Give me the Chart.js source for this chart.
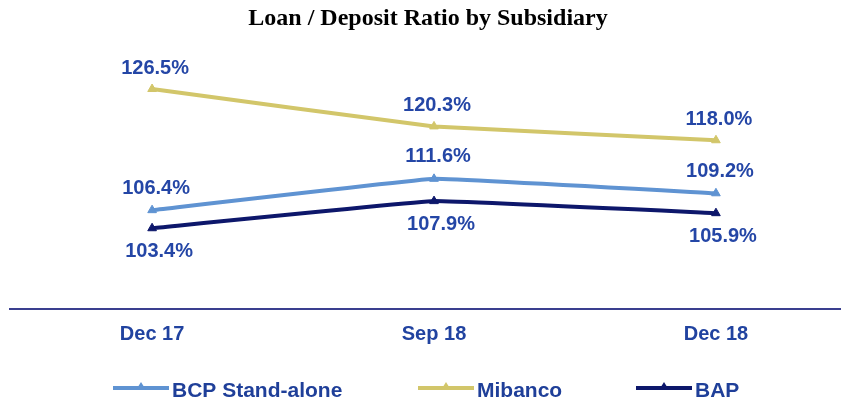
<!DOCTYPE html>
<html>
<head>
<meta charset="utf-8">
<script src="https://cdn.jsdelivr.net/npm/chart.js@4/dist/chart.umd.min.js"></script>
<style>
  html, body { margin: 0; padding: 0; background: #fff; }
  #wrap { width: 846px; height: 401px; }
</style>
</head>
<body>
<div id="wrap"><canvas id="ratioChart"></canvas></div>
<script>
// data
var periods  = ['Dec 17', 'Sep 18', 'Dec 18'];
var bcpData  = [106.4, 111.6, 109.2];
var mibData  = [126.5, 120.3, 118.0];
var bapData  = [103.4, 107.9, 105.9];
var seriesNames = ['BCP Stand-alone', 'Mibanco', 'BAP'];

var labelBlue = '#2446a6';
var sans = '"Liberation Sans", Arial, sans-serif';

function toPoints(values) {
    var pts = [];
    for (var i = 0; i < values.length; i++) {
        pts.push({ x: i, y: values[i] });
    }
    return pts;
}

/** value labels next to each point */
var valueLabels = {
    id: 'valueLabels',
    afterDatasetsDraw: function (chart) {
        var ctx = chart.ctx;
        ctx.save();
        ctx.font = 'bold 20px ' + sans;
        ctx.fillStyle = labelBlue;
        ctx.textAlign = 'center';
        ctx.textBaseline = 'middle';
        chart.data.datasets.forEach(function (ds, i) {
            var meta = chart.getDatasetMeta(i);
            meta.data.forEach(function (pt, j) {
                ctx.fillText(ds.data[j].y.toFixed(1) + '%', pt.x + ds.labelDx, pt.y + ds.labelDy);
            });
        });
        ctx.restore();
    }
};

/** category labels under the axis line */
var periodLabels = {
    id: 'periodLabels',
    afterDraw: function (chart) {
        var ctx = chart.ctx;
        var xs = chart.scales.x;
        ctx.save();
        ctx.font = 'bold 20px ' + sans;
        ctx.fillStyle = '#2143a0';
        ctx.textAlign = 'center';
        ctx.textBaseline = 'middle';
        periods.forEach(function (lab, i) {
            ctx.fillText(lab, xs.getPixelForValue(i), chart.chartArea.bottom + 25);
        });
        ctx.restore();
    }
};

/** legend drawn like the original (line with small triangle) */
var bottomLegend = {
    id: 'bottomLegend',
    afterDraw: function (chart) {
        var ctx = chart.ctx;
        var slots = [113, 418, 636];
        var lineLen = 56;
        var y = 388;
        ctx.save();
        ctx.font = 'bold 21px ' + sans;
        ctx.textBaseline = 'middle';
        ctx.textAlign = 'left';
        chart.data.datasets.forEach(function (ds, i) {
            var x0 = slots[i], x1 = slots[i] + lineLen;
            ctx.strokeStyle = ds.borderColor;
            ctx.lineWidth = 4;
            ctx.beginPath();
            ctx.moveTo(x0, y);
            ctx.lineTo(x1, y);
            ctx.stroke();
            var cx = (x0 + x1) / 2;
            ctx.fillStyle = ds.borderColor;
            ctx.beginPath();
            ctx.moveTo(cx, y - 6);
            ctx.lineTo(cx + 5, y + 2);
            ctx.lineTo(cx - 5, y + 2);
            ctx.closePath();
            ctx.fill();
            ctx.fillStyle = '#1f3f99';
            ctx.fillText(ds.label, x1 + 3, y + 3);
        });
        ctx.restore();
    }
};

var ctx = document.getElementById('ratioChart').getContext('2d');
new Chart(ctx, {
    type: 'line',
    data: {
        datasets: [
            {
                label: seriesNames[0],
                data: toPoints(bcpData),
                borderColor: '#5f93d2',
                backgroundColor: '#5f93d2',
                labelDx: 4, labelDy: -22
            },
            {
                label: seriesNames[1],
                data: toPoints(mibData),
                borderColor: '#d2c66a',
                backgroundColor: '#d2c66a',
                labelDx: 3, labelDy: -21
            },
            {
                label: seriesNames[2],
                data: toPoints(bapData),
                borderColor: '#0d176b',
                backgroundColor: '#0d176b',
                labelDx: 7, labelDy: 23
            }
        ]
    },
    options: {
        responsive: true,
        maintainAspectRatio: false,
        animation: false,
        layout: { padding: { left: 10, right: 0, top: 0, bottom: 84 } },
        elements: {
            line: { borderWidth: 4, tension: 0.05, fill: false },
            point: { pointStyle: 'triangle', radius: 5, borderWidth: 1 }
        },
        plugins: {
            legend: { display: false },
            tooltip: { enabled: false },
            title: {
                display: true,
                text: 'Loan / Deposit Ratio by Subsidiary',
                color: '#000',
                font: { family: "'Liberation Serif', 'Times New Roman', serif", size: 24, weight: 'bold' },
                padding: { top: 4, bottom: 5 }
            }
        },
        scales: {
            x: {
                type: 'linear',
                min: -0.504,
                max: 2.44,
                grid: { display: false },
                border: { display: true, color: '#3a3f8f', width: 2 },
                ticks: { display: false }
            },
            y: {
                display: false,
                min: 90,
                max: 135
            }
        }
    },
    plugins: [valueLabels, periodLabels, bottomLegend]
});
</script>
</body>
</html>
